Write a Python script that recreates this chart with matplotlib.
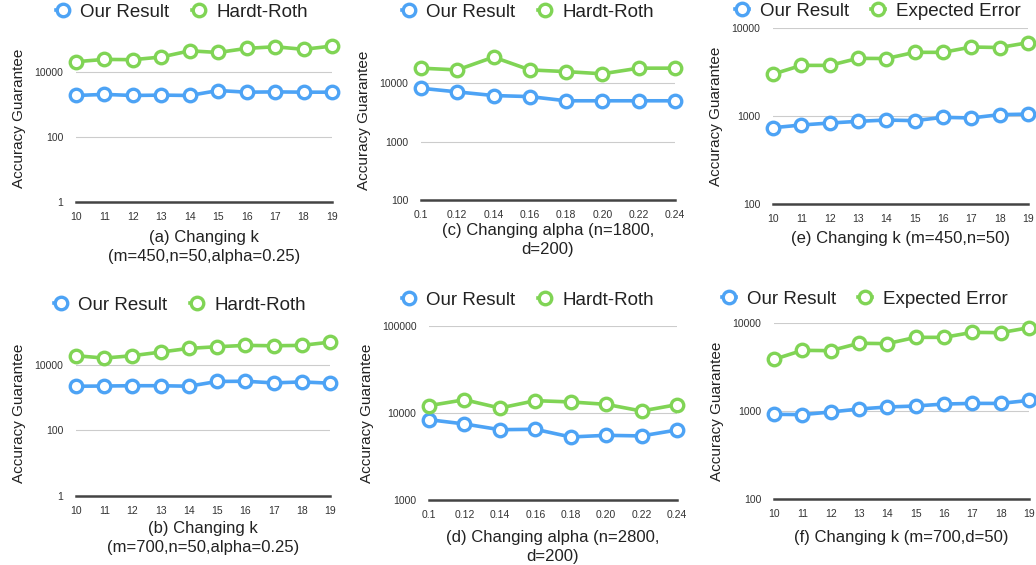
import numpy as np
import matplotlib
matplotlib.use('Agg')
from matplotlib import pyplot as plt

plt.rcParams['font.family'] = ['Liberation Sans', 'DejaVu Sans']

BLUE = '#4DA3F5'
GREEN = '#80D455'

# x categories
k_vals = ['10', '11', '12', '13', '14', '15', '16', '17', '18', '19']
alpha_vals = ['0.1', '0.12', '0.14', '0.16', '0.18', '0.20', '0.22', '0.24']

# (a) changing k, m=450
a_ours = [1900, 2050, 1900, 1950, 1900, 2700, 2400, 2450, 2400, 2400]
a_hr = [20800, 24500, 24000, 29000, 45000, 40000, 53500, 60000, 50000, 63000]

# (b) changing k, m=700
b_ours = [2220, 2250, 2300, 2300, 2220, 3100, 3150, 2800, 3000, 2750]
b_hr = [18900, 16000, 18900, 24400, 31600, 35500, 39000, 38000, 39000, 49000]

# (c) changing alpha, n=1800
c_ours = [8200, 7100, 6150, 5900, 5000, 5000, 5000, 5000]
c_hr = [18100, 16900, 28000, 16900, 15800, 14500, 18100, 18100]

# (d) changing alpha, n=2800
d_ours = [8380, 7480, 6430, 6500, 5300, 5540, 5450, 6380]
d_hr = [12150, 14200, 11400, 13860, 13400, 12580, 10540, 12470]

# (e) changing k, m=450,n=50
e_ours = [736, 790, 832, 869, 900, 885, 966, 950, 1036, 1050]
e_exp = [2990, 3760, 3760, 4520, 4500, 5290, 5290, 6080, 6000, 6810]

# (f) changing k, m=700,d=50
f_ours = [917, 910, 974, 1054, 1110, 1140, 1200, 1220, 1220, 1320]
f_exp = [3860, 4890, 4850, 5880, 5830, 6870, 6870, 7830, 7760, 8850]

W, H = 1036, 565
fig = plt.figure(figsize=(W / 100, H / 100), dpi=100)


def px_axes(left, right, top, bottom):
    return fig.add_axes([left / W, 1 - bottom / H, (right - left) / W, (bottom - top) / H])


def panel(rect, xlabels, ours, other, other_name, ylim, yticks, caption, cap_y, leg_xy):
    ax = px_axes(*rect)
    x = np.arange(len(xlabels))
    ax.set_yscale('log')
    ax.set_ylim(*ylim)
    ax.set_xlim(0, len(xlabels) - 1)
    for ys, c, name in [(ours, BLUE, 'Our Result'), (other, GREEN, other_name)]:
        ax.plot(x, ys, color=c, lw=2.6, marker='o', ms=9, mfc='white', mec=c,
                mew=2.4, clip_on=False, zorder=3, label=name)
    ax.set_yticks(yticks)
    ax.set_yticklabels([str(t) for t in yticks])
    ax.yaxis.set_minor_locator(matplotlib.ticker.NullLocator())
    ax.set_xticks(x)
    ax.set_xticklabels(xlabels)
    ax.tick_params(axis='both', length=0, labelsize=7.5, colors='#333333')
    ax.tick_params(axis='y', pad=9)
    ax.tick_params(axis='x', pad=7)
    ax.grid(axis='y', color='#cccccc', lw=0.8)
    for s in ['top', 'right', 'left']:
        ax.spines[s].set_visible(False)
    ax.spines['bottom'].set_color('#444444')
    ax.spines['bottom'].set_linewidth(1.8)
    ax.set_ylabel('Accuracy Guarantee', fontsize=11, color='#222222', labelpad=6)
    cx = (rect[0] + rect[1]) / 2
    fig.text(cx / W, 1 - cap_y / H, caption, ha='center', va='top', fontsize=12,
             color='#222222', linespacing=1.3)
    ax.legend(loc='center', bbox_to_anchor=(leg_xy[0] / W, 1 - leg_xy[1] / H),
              bbox_transform=fig.transFigure, ncol=2, frameon=False, fontsize=13.5,
              handlelength=0.7, handletextpad=0.6, columnspacing=1.2,
              labelcolor='#222222')
    return ax


panel((76, 332, 35, 202), k_vals, a_ours, a_hr, 'Hardt-Roth', (1, 10 ** 5.14),
      [1, 100, 10000], '(a) Changing k\n(m=450,n=50,alpha=0.25)', 230, (182, 12))
panel((76, 330, 330, 496), k_vals, b_ours, b_hr, 'Hardt-Roth', (1, 10 ** 5.06),
      [1, 100, 10000], '(b) Changing k\n(m=700,n=50,alpha=0.25)', 521, (180, 305))
panel((421, 675, 40, 200), alpha_vals, c_ours, c_hr, 'Hardt-Roth', (100, 10 ** 4.74),
      [100, 1000, 10000], '(c) Changing alpha (n=1800,\nd=200)', 223, (528, 12))
panel((429, 677, 326, 500), alpha_vals, d_ours, d_hr, 'Hardt-Roth', (1000, 100000),
      [1000, 10000, 100000], '(d) Changing alpha (n=2800,\nd=200)', 530, (528, 300))
panel((773, 1028, 28, 204), k_vals, e_ours, e_exp, 'Expected Error', (100, 10000),
      [100, 1000, 10000], '(e) Changing k (m=450,n=50)', 231, (878, 11))
panel((774, 1029, 323, 499), k_vals, f_ours, f_exp, 'Expected Error', (100, 10000),
      [100, 1000, 10000], '(f) Changing k (m=700,d=50)', 530, (865, 299))

fig.savefig('out.png', dpi=100)
